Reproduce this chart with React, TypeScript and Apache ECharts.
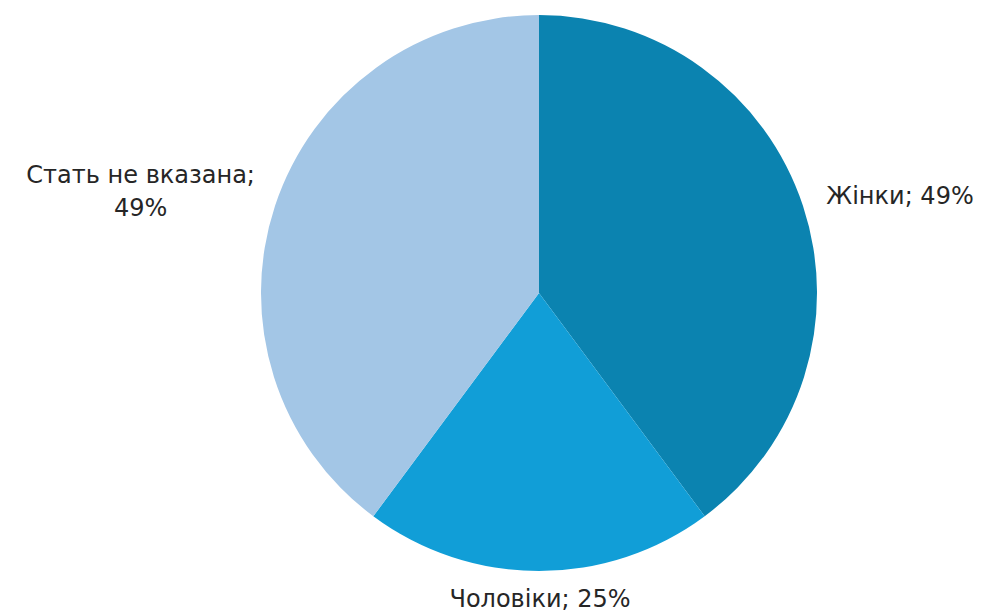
import React, { useEffect, useRef } from "react";
import * as echarts from "echarts";

const categories = ["Жінки", "Чоловіки", "Стать не вказана"];
const values = [49, 25, 49];
const colors = ["#0b83b0", "#119ed7", "#a3c6e6"];

const FONT = "DejaVu Sans";

export default function App() {
  const ref = useRef<HTMLDivElement>(null);
  useEffect(() => {
    if (!ref.current) return;
    const chart = echarts.init(ref.current, undefined, { renderer: "svg" });
    const data = categories.map((name, i) => {
      const item: any = { name, value: values[i], itemStyle: { color: colors[i] } };
      if (i === 2) {
        item.label = {
          formatter: "{a|{b};}\n{a|{c}%}",
          rich: { a: { width: 238, align: "center", fontSize: 24, lineHeight: 33, color: "#262626", fontFamily: FONT } },
        };
      }
      return item;
    });
    chart.setOption({
      animation: false,
      backgroundColor: "#ffffff",
      series: [
        {
          type: "pie",
          center: [539, 293],
          radius: 278,
          startAngle: 90,
          clockwise: true,
          avoidLabelOverlap: false,
          data,
          label: {
            show: true,
            position: "outside",
            formatter: "{b}; {c}%",
            fontSize: 24,
            color: "#262626",
            fontFamily: FONT,
            distanceToLabelLine: 0,
          },
          labelLine: { show: false, length: 12, length2: 4 },
          labelLayout: (params: any) => {
            if (params.dataIndex === 0) return { dx: 8, dy: -6 };
            if (params.dataIndex === 1) return { align: "center", dx: -3, dy: 16 };
            return { dx: 0, dy: -10 };
          },
          itemStyle: { borderWidth: 0 },
          emphasis: { disabled: true },
        },
      ],
    });
    return () => chart.dispose();
  }, []);
  return <div ref={ref} style={{ position: "fixed", left: 0, top: 0, width: 984, height: 614 }} />;
}
